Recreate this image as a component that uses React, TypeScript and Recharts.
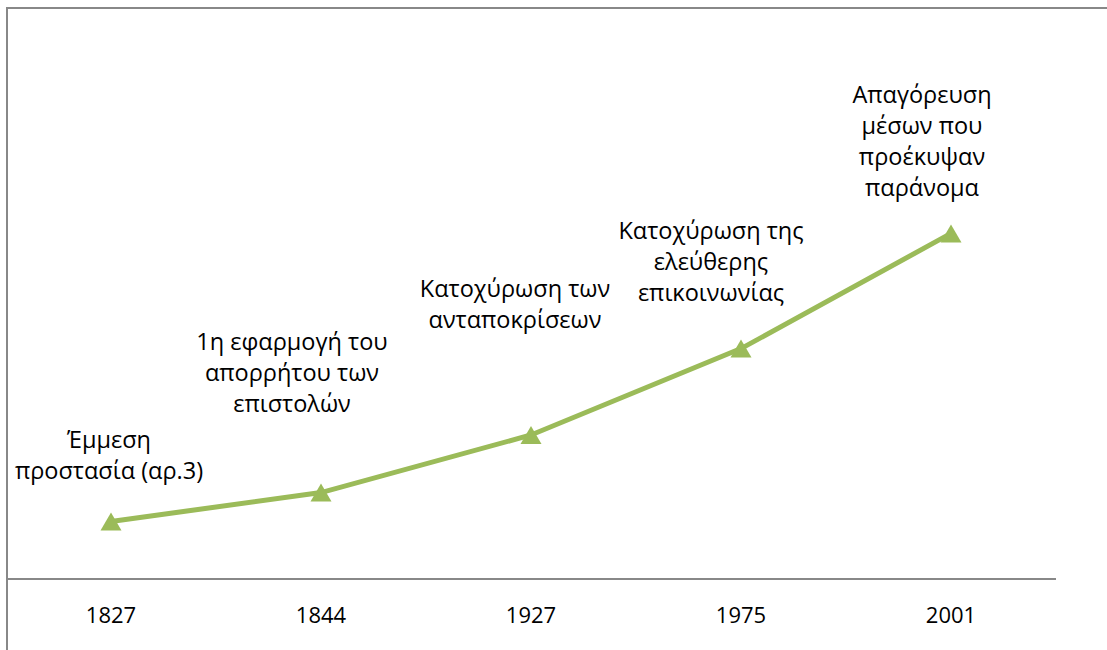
import React from "react";
import { LineChart, Line, XAxis, YAxis, LabelList } from "recharts";

const years = ["1827", "1844", "1927", "1975", "2001"];
const milestones = [1, 1.5, 2.5, 4, 6];
const eventLabels = [
  ["Έμμεση", "προστασία (αρ.3)"],
  ["1η εφαρμογή του", "απορρήτου των", "επιστολών"],
  ["Κατοχύρωση των", "ανταποκρίσεων"],
  ["Κατοχύρωση της", "ελεύθερης", "επικοινωνίας"],
  ["Απαγόρευση", "μέσων που", "προέκυψαν", "παράνομα"],
];

// label placement (hand tuned like in the original sheet)
const labelDx = [-2, -29, -16, -30, -29];
const labelDy = [-51, -90, -116, -57, -46];
const LINE_H = 31;
const GREEN = "#9BBB59";
const FONT = "'Open Sans', sans-serif";

const chartData = years.map((y, i) => ({ year: y, value: milestones[i], idx: i }));

const Triangle = (props: any) => {
  const { cx, cy } = props;
  if (cx == null || cy == null) return null;
  const w = 21;
  const h = 18;
  return (
    <polygon
      points={`${cx},${cy - h / 2} ${cx + w / 2},${cy + h / 2} ${cx - w / 2},${cy + h / 2}`}
      fill={GREEN}
      stroke="none"
    />
  );
};

const EventLabel = (props: any) => {
  const { x, y, index } = props;
  const lines = eventLabels[index];
  if (!lines) return null;
  const cx = x + labelDx[index];
  const lastY = y + labelDy[index];
  return (
    <text textAnchor="middle" fontFamily={FONT} fontSize={23.5} fill="#000">
      {lines.map((ln, i) => (
        <tspan key={i} x={cx} y={lastY - (lines.length - 1 - i) * LINE_H} dominantBaseline="central">
          {ln}
        </tspan>
      ))}
    </text>
  );
};

const YearTick = (props: any) => {
  const { x, y, payload } = props;
  return (
    <text x={x} y={y + 35} textAnchor="middle" dominantBaseline="central" fontFamily={FONT} fontSize={22} fill="#000">
      {payload.value}
    </text>
  );
};

export default function App() {
  return (
    <div style={{ position: "absolute", left: 0, top: 0, width: 1107, height: 650, overflow: "hidden", background: "#fff" }}>
      <div
        style={{
          position: "absolute",
          left: 6,
          top: 7,
          width: 1120,
          height: 660,
          borderTop: "2px solid #888",
          borderLeft: "2px solid #888",
        }}
      />
      <LineChart
        width={1107}
        height={650}
        data={chartData}
        margin={{ top: 3, left: 7, right: 51, bottom: 31 }}
        style={{ position: "absolute", left: 0, top: 0 }}
      >
        <YAxis hide domain={[0, 10]} />
        <XAxis
          dataKey="year"
          height={40}
          padding={{ left: 104, right: 105 }}
          axisLine={{ stroke: "#888", strokeWidth: 2 }}
          tickLine={false}
          tickSize={0}
          tickMargin={0}
          tick={<YearTick />}
          interval={0}
        />
        <Line
          dataKey="value"
          stroke={GREEN}
          strokeWidth={5}
          dot={<Triangle />}
          activeDot={false}
          isAnimationActive={false}
        >
          <LabelList dataKey="value" content={<EventLabel />} />
        </Line>
      </LineChart>
    </div>
  );
}
